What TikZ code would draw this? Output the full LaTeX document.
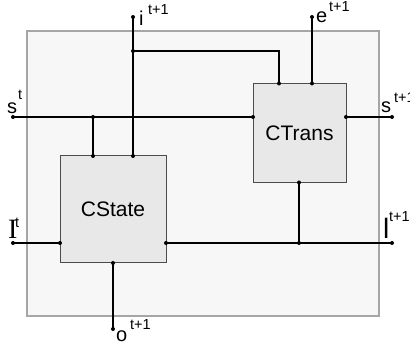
\documentclass[tikz,border=0pt]{standalone}
\usepackage{fontspec}
\setmainfont{Liberation Sans}
\newfontfamily\serifI{Liberation Serif}
\begin{document}
\begin{tikzpicture}[x=1pt,y=-1pt,
  wire/.style={line width=2.5pt,black},
  blockbox/.style={draw=black!70,line width=1pt,fill=black!9,inner sep=0pt,font=\fontsize{21}{24}\selectfont},
  lbl/.style={inner sep=0pt,anchor=base west,font=\fontsize{20}{22}\selectfont},
  sup/.style={inner sep=0pt,anchor=base west,font=\fontsize{14.5}{16}\selectfont},
  bigl/.style={inner sep=0pt,anchor=base west,font=\fontsize{28}{30}\selectfont}]
\useasboundingbox (0,0) rectangle (410,347);
% outer frame
\draw[fill=black!3,draw=black!35,line width=1.2pt] (27,31) rectangle (379,316);
% blocks
\node[blockbox,minimum width=93pt,minimum height=99pt] (ctrans) at (299.5,133) {CTrans};
\node[blockbox,minimum width=106pt,minimum height=107pt] (cstate) at (113,209.5) {CState};
% coordinates
\coordinate (sin) at (13,117);
\coordinate (sj) at (93,117);
\coordinate (sjb) at (93,156);
\coordinate (ctw) at (253,117);
\coordinate (cte) at (346,117);
\coordinate (sout) at (392,117);
\coordinate (itop) at (133,17);
\coordinate (ij) at (133,51);
\coordinate (ib) at (133,156);
\coordinate (ic) at (279,51);
\coordinate (ict) at (279,83.5);
\coordinate (etop) at (312,17);
\coordinate (ect) at (312,83.5);
\coordinate (lin) at (13,243);
\coordinate (csw) at (60,243);
\coordinate (cse) at (166,243);
\coordinate (lj) at (299,243);
\coordinate (ctb) at (299,182.5);
\coordinate (lout) at (392,243);
\coordinate (csb) at (113,263);
\coordinate (obot) at (113,329);
% wires
\draw[wire] (sin) -- (ctw);
\draw[wire] (sj) -- (sjb);
\draw[wire] (cte) -- (sout);
\draw[wire] (itop) -- (ib);
\draw[wire] (ij) -- (ic) -- (ict);
\draw[wire] (etop) -- (ect);
\draw[wire] (lin) -- (csw);
\draw[wire] (cse) -- (lout);
\draw[wire] (lj) -- (ctb);
\draw[wire] (csb) -- (obot);
% dots
\foreach \p in {sin,sj,sjb,ctw,cte,sout,itop,ij,ib,ict,etop,ect,lin,csw,cse,lj,ctb,lout,csb,obot}
  \fill (\p) circle (2pt);
% labels
\node[lbl] (ls) at (7,114) {s};
\node[sup] (lst) at (18,100) {t};
\node[lbl] (li) at (139,26) {i};
\node[sup] (lit) at (148,15) {t+1};
\node[lbl] (le) at (316,23) {e};
\node[sup] (let) at (329,12) {t+1};
\node[lbl] (ls2) at (381,113) {s};
\node[sup] (ls2t) at (394,103) {t+1};
\node[bigl,font=\fontsize{28}{30}\serifI] (lI) at (8,239) {I};
\node[sup] (lIt) at (15,228) {t};
\node[bigl] (lI2) at (383,239) {l};
\node[sup] (lI2t) at (389,222) {t+1};
\node[lbl] (lo) at (116,342) {o};
\node[sup] (lot) at (130,330) {t+1};
\end{tikzpicture}
\end{document}
